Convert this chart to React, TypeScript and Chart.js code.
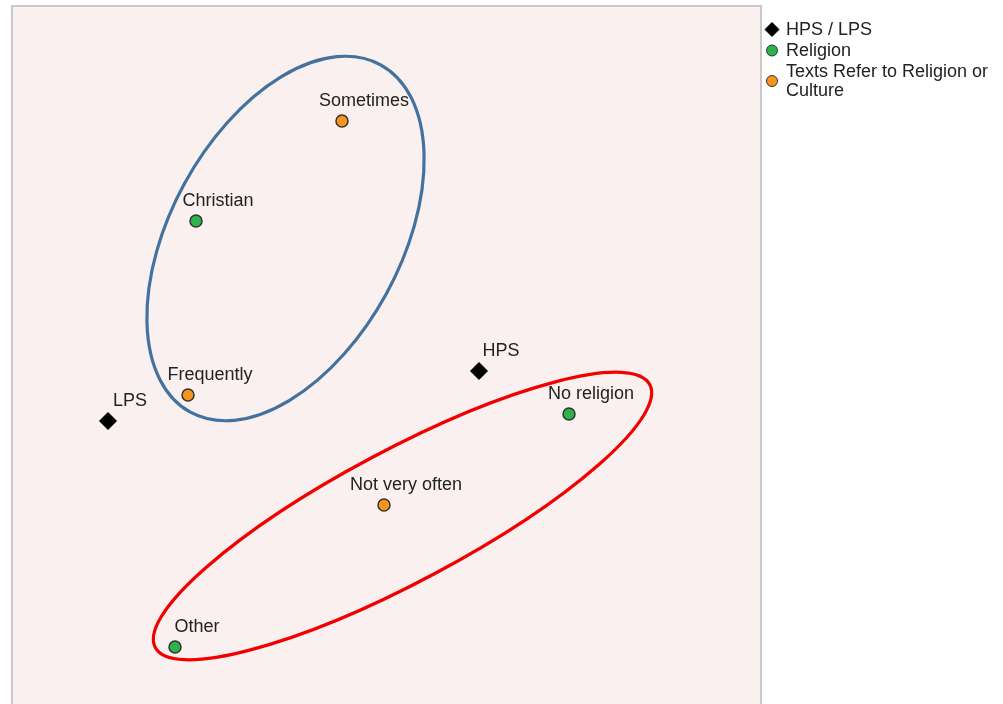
import React, { useEffect, useRef } from "react";
import { Chart, registerables } from "chart.js";

Chart.register(...registerables);

// ---- data ----
const groupNames = ["HPS / LPS", "Religion", "Texts Refer to Religion or Culture"];
const hpsLabels = ["HPS", "LPS"];
const hpsX = [0.6, -0.884];
const hpsY = [0.08, -0.12];
const religionLabels = ["Christian", "No religion", "Other"];
const religionX = [-0.532, 0.96, -0.616];
const religionY = [0.68, -0.092, -1.024];
const textsLabels = ["Sometimes", "Frequently", "Not very often"];
const textsX = [0.052, -0.564, 0.22];
const textsY = [1.08, -0.016, -0.456];
// ellipses: centre x, centre y, radius x, radius y (data units), rotation (deg)
const blueEllipse = [-0.174, 0.61, 0.46, 0.792, 28.7];
const redEllipse = [0.294, -0.5, 1.12, 0.264, -28];

const FONT = '18px "Liberation Sans", Arial, sans-serif';
const TEXT_COLOR = "#222222";
const GREEN = "#2DB34A";
const ORANGE = "#F7941D";

const toPoints = (xs: number[], ys: number[], labels: string[]) =>
  xs.map((x, i) => ({ x, y: ys[i], label: labels[i] }));

const bgPlugin = {
  id: "bgPlugin",
  beforeDraw(chart: any) {
    const { ctx, chartArea } = chart;
    const { left, top, right, bottom } = chartArea;
    ctx.save();
    ctx.fillStyle = "#FBF0F0";
    ctx.fillRect(left, top, right - left, bottom - top);
    ctx.strokeStyle = "#C9C9C9";
    ctx.lineWidth = 2;
    ctx.beginPath();
    ctx.moveTo(left - 1, bottom);
    ctx.lineTo(left - 1, top - 1);
    ctx.lineTo(right + 1, top - 1);
    ctx.lineTo(right + 1, bottom);
    ctx.stroke();
    ctx.restore();
  },
};

const ellipsePlugin = {
  id: "ellipsePlugin",
  beforeDatasetsDraw(chart: any) {
    const { ctx, scales } = chart;
    const xs = scales.x;
    const ys = scales.y;
    const draw = (e: number[], color: string) => {
      const cx = xs.getPixelForValue(e[0]);
      const cy = ys.getPixelForValue(e[1]);
      const rx = Math.abs(xs.getPixelForValue(e[0] + e[2]) - cx);
      const ry = Math.abs(ys.getPixelForValue(e[1] + e[3]) - cy);
      ctx.save();
      ctx.strokeStyle = color;
      ctx.lineWidth = 3.2;
      ctx.beginPath();
      ctx.ellipse(cx, cy, rx, ry, (e[4] * Math.PI) / 180, 0, Math.PI * 2);
      ctx.stroke();
      ctx.restore();
    };
    draw(blueEllipse, "#44729E");
    draw(redEllipse, "#F20000");
  },
};

const labelPlugin = {
  id: "labelPlugin",
  afterDatasetsDraw(chart: any) {
    const { ctx } = chart;
    ctx.save();
    ctx.font = FONT;
    ctx.fillStyle = TEXT_COLOR;
    ctx.textAlign = "center";
    ctx.textBaseline = "middle";
    chart.data.datasets.forEach((ds: any, di: number) => {
      const meta = chart.getDatasetMeta(di);
      meta.data.forEach((el: any, i: number) => {
        const lbl = ds.data[i].label;
        ctx.fillText(lbl, el.x + 22, el.y - 20);
      });
    });
    ctx.restore();
  },
};

const legendPlugin = {
  id: "legendPlugin",
  afterDraw(chart: any) {
    const { ctx } = chart;
    const markerX = 772;
    const textX = 786;
    const maxW = 215;
    const lineH = 19;
    let y = 30;
    ctx.save();
    ctx.font = FONT;
    ctx.textBaseline = "middle";
    ctx.textAlign = "left";
    chart.data.datasets.forEach((ds: any) => {
      const words = String(ds.label).split(" ");
      const lines: string[] = [];
      let cur = "";
      words.forEach((w) => {
        const t = cur ? cur + " " + w : w;
        if (ctx.measureText(t).width > maxW && cur) {
          lines.push(cur);
          cur = w;
        } else cur = t;
      });
      if (cur) lines.push(cur);
      const my = y + ((lines.length - 1) * lineH) / 2 - 0.5;
      ctx.fillStyle = ds.backgroundColor;
      ctx.strokeStyle = ds.borderColor;
      ctx.lineWidth = 1;
      ctx.beginPath();
      if (ds.pointStyle === "rectRot") {
        const r = 7;
        ctx.moveTo(markerX, my - r);
        ctx.lineTo(markerX + r, my);
        ctx.lineTo(markerX, my + r);
        ctx.lineTo(markerX - r, my);
        ctx.closePath();
      } else {
        ctx.arc(markerX, my, 5.5, 0, Math.PI * 2);
      }
      ctx.fill();
      ctx.stroke();
      ctx.fillStyle = TEXT_COLOR;
      lines.forEach((ln, i) => ctx.fillText(ln, textX, y + i * lineH));
      y += lines.length * lineH + 2;
    });
    ctx.restore();
  },
};

export default function App() {
  const canvasRef = useRef<HTMLCanvasElement | null>(null);

  useEffect(() => {
    if (!canvasRef.current) return;
    const chart = new Chart(canvasRef.current, {
      type: "scatter",
      data: {
        datasets: [
          {
            label: groupNames[0],
            data: toPoints(hpsX, hpsY, hpsLabels),
            pointStyle: "rectRot",
            pointRadius: 8.5,
            pointHoverRadius: 8.5,
            backgroundColor: "#000000",
            borderColor: "#000000",
            borderWidth: 1,
          },
          {
            label: groupNames[1],
            data: toPoints(religionX, religionY, religionLabels),
            pointStyle: "circle",
            pointRadius: 6,
            pointHoverRadius: 6,
            backgroundColor: GREEN,
            borderColor: "#333333",
            borderWidth: 1.5,
          },
          {
            label: groupNames[2],
            data: toPoints(textsX, textsY, textsLabels),
            pointStyle: "circle",
            pointRadius: 6,
            pointHoverRadius: 6,
            backgroundColor: ORANGE,
            borderColor: "#333333",
            borderWidth: 1.5,
          },
        ] as any,
      },
      options: {
        animation: false,
        responsive: false,
        devicePixelRatio: 1,
        layout: { autoPadding: false, padding: { left: 13, top: 7, right: 243, bottom: 0 } },
        plugins: {
          legend: { display: false },
          tooltip: { enabled: false },
        },
        scales: {
          x: { type: "linear", display: false, min: -1.264, max: 1.724 },
          y: { type: "linear", display: false, min: -1.316, max: 1.536 },
        },
      },
      plugins: [bgPlugin, ellipsePlugin, labelPlugin, legendPlugin],
    });
    return () => chart.destroy();
  }, []);

  return (
    <div style={{ position: "absolute", left: 0, top: 0, width: 1003, height: 720, background: "#ffffff" }}>
      <canvas ref={canvasRef} width={1003} height={720} style={{ display: "block" }} />
    </div>
  );
}
